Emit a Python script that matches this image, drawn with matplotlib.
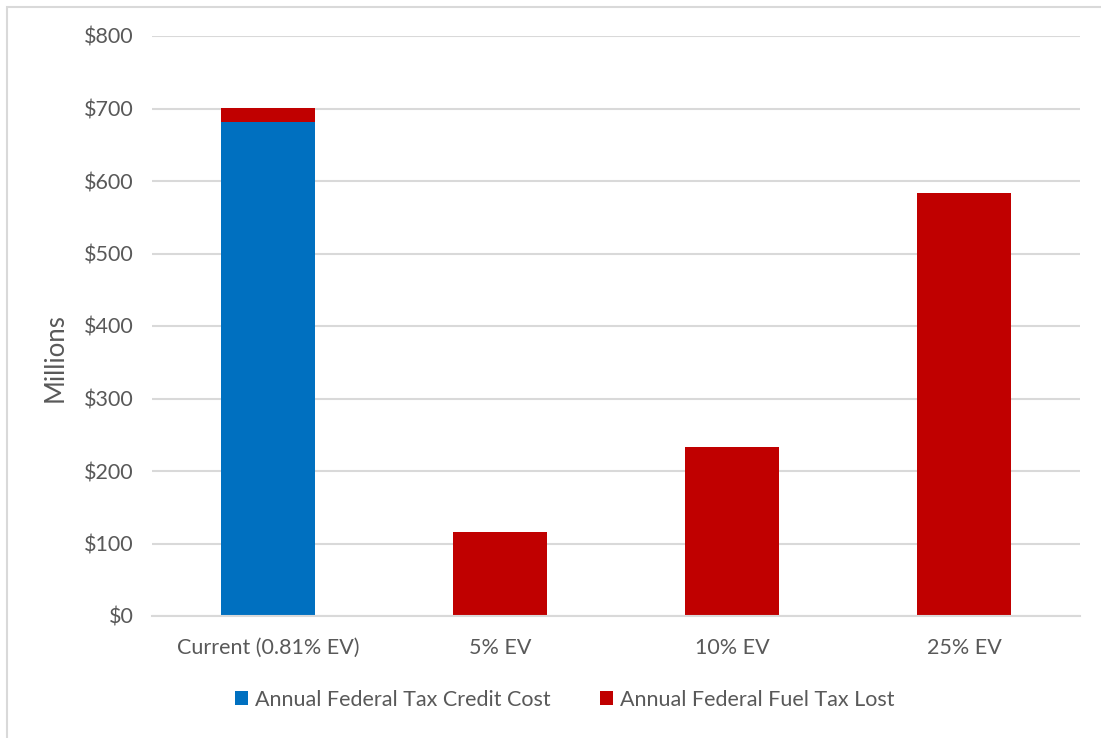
import matplotlib
matplotlib.use("Agg")
import matplotlib.pyplot as plt
from matplotlib.patches import Rectangle
import numpy as np

categories = ["Current (0.81% EV)", "5% EV", "10% EV", "25% EV"]
tax_credit_cost = [682, 0, 0, 0]
fuel_tax_lost = [19, 116, 233, 583]
series_names = ["Annual Federal Tax Credit Cost", "Annual Federal Fuel Tax Lost"]
y_ticks = [0, 100, 200, 300, 400, 500, 600, 700, 800]

BLUE = "#0070C0"
RED = "#C00000"
TEXT = "#595959"
GRID = "#D9D9D9"

plt.rcParams["font.family"] = ["Lato", "DejaVu Sans"]

fig = plt.figure(figsize=(11.01, 7.38), dpi=100)
fig.patches.append(Rectangle((7 / 1101, -0.01), 1.02, 1 - 7 / 738 + 0.01,
                             transform=fig.transFigure, fill=False,
                             edgecolor="#D9D9D9", linewidth=1.5))

ax = fig.add_axes([152 / 1101, 1 - 616 / 738, (1080 - 152) / 1101, (616 - 36) / 738])

x = np.arange(len(categories))
width = 0.405
ax.bar(x, tax_credit_cost, width, color=BLUE, label=series_names[0], zorder=3)
ax.bar(x, fuel_tax_lost, width, bottom=tax_credit_cost, color=RED,
       label=series_names[1], zorder=3)

ax.set_xlim(-0.5, len(categories) - 0.5)
ax.set_ylim(0, 800)
ax.set_yticks(y_ticks)
ax.set_yticklabels([f"${v}" for v in y_ticks])
ax.set_xticks(x)
ax.set_xticklabels(categories)
ax.yaxis.grid(True, color=GRID, linewidth=1.5, zorder=0)
ax.tick_params(axis="both", length=0, labelsize=15.5, colors=TEXT)
ax.tick_params(axis="x", pad=16)
ax.tick_params(axis="y", pad=13)
for side in ["top", "right", "left"]:
    ax.spines[side].set_visible(False)
ax.spines["bottom"].set_color(GRID)
ax.spines["bottom"].set_linewidth(1.5)
ax.spines["bottom"].set_zorder(4)

ax.set_ylabel("Millions", fontsize=18.5, color=TEXT, va="center")
ax.yaxis.set_label_coords(-0.1045, 0.446)

leg = fig.legend(loc="center", bbox_to_anchor=(564.5 / 1101, 1 - 700 / 738), ncol=2,
                 frameon=False, fontsize=15.5, handlelength=0.62, handleheight=0.62,
                 handletextpad=0.3, columnspacing=2.3)
for t in leg.get_texts():
    t.set_color(TEXT)

fig.savefig("out.png", dpi=100)
